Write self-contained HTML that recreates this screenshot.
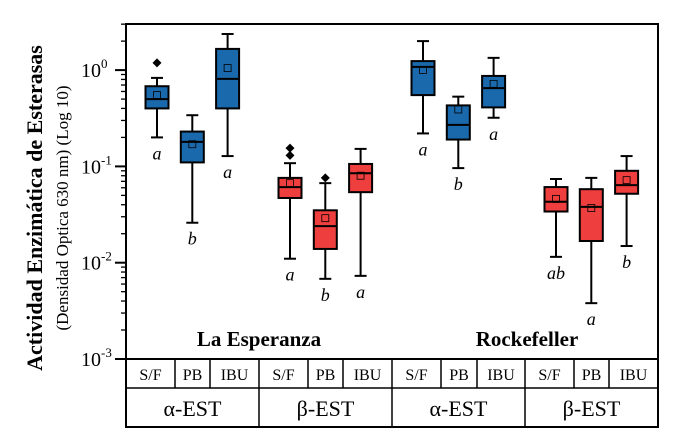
<!DOCTYPE html>
<html><head><meta charset="utf-8"><style>
body{margin:0;background:#fff;}
svg{display:block;}
svg text{font-family:"Liberation Serif","DejaVu Serif","Times New Roman",serif;}
</style></head><body>
<svg id="chart" width="677" height="445" viewBox="0 0 677 445" xmlns="http://www.w3.org/2000/svg" font-family="Liberation Serif, DejaVu Serif, serif">
<g id="marks"></g>
<g id="axis"></g>
<rect x="126" y="24" width="532" height="403" fill="none" stroke="#000" stroke-width="2"/>
<line x1="116" y1="359" x2="658" y2="359" stroke="#000" stroke-width="2"/>
<line x1="126" y1="388" x2="658" y2="388" stroke="#000" stroke-width="1.5"/>
<g id="table"></g>
<text transform="translate(42,208) rotate(-90)" text-anchor="middle" font-size="22" font-weight="bold">Actividad Enzimática de Esterasas</text>
<text transform="translate(68,208) rotate(-90)" text-anchor="middle" font-size="17">(Densidad Optica 630 nm) (Log 10)</text>
<text x="259" y="346" text-anchor="middle" font-size="21" font-weight="bold">La Esperanza</text>
<text x="527" y="346" text-anchor="middle" font-size="21" font-weight="bold">Rockefeller</text>
</svg>
<script>
const groups = ["S/F","PB","IBU","S/F","PB","IBU","S/F","PB","IBU","S/F","PB","IBU"];
const whiskerHigh = [0.83,0.34,2.37,0.108,0.067,0.152,2.0,0.53,1.34,0.074,0.076,0.128];
const q3 = [0.68,0.23,1.66,0.076,0.035,0.106,1.24,0.43,0.87,0.061,0.058,0.090];
const medians = [0.50,0.18,0.81,0.061,0.024,0.085,1.08,0.27,0.65,0.043,0.038,0.064];
const q1 = [0.40,0.11,0.40,0.047,0.0139,0.054,0.55,0.19,0.41,0.034,0.0168,0.052];
const whiskerLow = [0.20,0.026,0.128,0.011,0.0068,0.0073,0.22,0.096,0.32,0.0115,0.0038,0.0149];
const means = [0.55,0.17,1.05,0.067,0.029,0.08,1.0,0.39,0.72,0.046,0.037,0.072];
const outliers = [[1.19],[],[],[0.155,0.13],[0.076],[],[],[],[],[],[],[]];
const letters = ["a","b","a","a","b","a","a","b","a","ab","a","b"];
const enzymes = ["α-EST","β-EST","α-EST","β-EST"];
const yTicks = [-3,-2,-1,0];

const NS="http://www.w3.org/2000/svg";
const yBottom=359, decade=96.3;
function y(v){return yBottom-(Math.log10(v)+3)*decade;}
function x(i){return 157+Math.floor(i/3)*133+(i%3)*35.3;}
function mk(tag,attrs,parent){const e=document.createElementNS(NS,tag);for(const k in attrs)e.setAttribute(k,attrs[k]);parent.appendChild(e);return e;}
const marks=document.getElementById('marks');
for(let i=0;i<groups.length;i++){
  const cx=x(i), w=23, col=(Math.floor(i/3)%2===0)?'#1a69ad':'#ef3e3e';
  const g=mk('g',{},marks);
  
  
  mk('line',{x1:cx,x2:cx,y1:y(whiskerHigh[i]),y2:y(whiskerLow[i]),stroke:'#000','stroke-width':2},g);
  mk('line',{x1:cx-6,x2:cx+6,y1:y(whiskerHigh[i]),y2:y(whiskerHigh[i]),stroke:'#000','stroke-width':2},g);
  mk('line',{x1:cx-6,x2:cx+6,y1:y(whiskerLow[i]),y2:y(whiskerLow[i]),stroke:'#000','stroke-width':2},g);
  mk('rect',{x:cx-w/2,y:y(q3[i]),width:w,height:y(q1[i])-y(q3[i]),fill:col,stroke:'#000','stroke-width':2},g);
  mk('line',{x1:cx-w/2,x2:cx+w/2,y1:y(medians[i]),y2:y(medians[i]),stroke:'#000','stroke-width':2},g);
  mk('rect',{x:cx-3.5,y:y(means[i])-3.5,width:7,height:7,fill:'none',stroke:'#000','stroke-width':0.8},g);
  outliers[i].forEach(o=>{
    const p=mk('path',{d:`M${cx} ${y(o)-4.5}L${cx+4.5} ${y(o)}L${cx} ${y(o)+4.5}L${cx-4.5} ${y(o)}Z`,fill:'#000'},g);
    
    
  });
  const t=mk('text',{x:cx,y:y(whiskerLow[i])+22,'text-anchor':'middle','font-size':18,'font-style':'italic'},g);
  t.textContent=letters[i];
  
  
}
const axis=document.getElementById('axis');
yTicks.forEach(e=>{
  const yy=y(Math.pow(10,e));
  mk('line',{x1:115,x2:126,y1:yy,y2:yy,stroke:'#000','stroke-width':2},axis);
  const t=mk('text',{x:101,y:yy+7,'text-anchor':'end','font-size':20},axis);
  t.textContent='10';
  
  
  const s=mk('text',{x:101,y:yy-2,'font-size':13},axis);s.textContent=String(e);
  if(e<0){for(let m=2;m<=9;m++){const ym=y(m*Math.pow(10,e));mk('line',{x1:121,x2:126,y1:ym,y2:ym,stroke:'#000','stroke-width':1.3},axis);}}
});
for(let m=2;m<=3;m++){const ym=y(m);mk('line',{x1:121,x2:126,y1:ym,y2:ym,stroke:'#000','stroke-width':1.3},axis);}
const table=document.getElementById('table');
const bounds=[126,175,210,259,308,343,392,441,477,525,574,609,658];
for(let i=0;i<groups.length;i++){
  if(i>0)mk('line',{x1:bounds[i],x2:bounds[i],y1:359,y2:388,stroke:'#000','stroke-width':1.5},table);
  const t=mk('text',{x:(bounds[i]+bounds[i+1])/2,y:380,'text-anchor':'middle','font-size':16},table);
  t.textContent=groups[i];
  
  
}
for(let j=0;j<enzymes.length;j++){
  const a=bounds[j*3],b=bounds[j*3+3];
  if(j>0)mk('line',{x1:a,x2:a,y1:388,y2:427,stroke:'#000','stroke-width':1.5},table);
  const t=mk('text',{x:(a+b)/2,y:416,'text-anchor':'middle','font-size':22},table);
  t.textContent=enzymes[j];
  
  
}
</script>
</body></html>
